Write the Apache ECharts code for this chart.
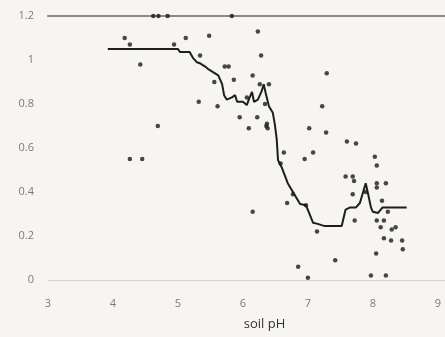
<!DOCTYPE html>
<html>
<head>
<meta charset="utf-8">
<script src="https://cdn.jsdelivr.net/npm/echarts@6/dist/echarts.min.js"></script>
<style>
  html, body { margin: 0; padding: 0; background: #f6f5f1; }
  #chart { width: 445px; height: 337px; }
</style>
</head>
<body>
<div id="chart"></div>
<script>
// scatter: soil pH vs value
const pointsX = [
  4.18, 4.26, 4.42, 4.69, 4.26, 4.45, 4.62, 4.70, 4.84, 4.94,
  5.12, 5.48, 5.34, 5.56, 5.32, 5.61, 5.83, 6.23, 6.28, 5.72,
  5.78, 5.86, 6.15, 6.26, 6.40, 7.29, 6.06, 6.34, 7.22, 5.95,
  6.22, 6.09, 6.37, 6.38, 6.36, 7.02, 7.28, 7.60, 7.74, 6.63,
  7.08, 6.95, 8.03, 8.06, 6.58, 6.15, 6.68, 6.77, 6.85, 7.00,
  7.14, 7.42, 7.58, 7.69, 7.71, 7.69, 7.72, 8.06, 8.20, 8.06,
  8.14, 8.23, 8.06, 8.17, 8.12, 8.29, 8.35, 8.17, 8.28, 8.45,
  8.46, 8.05, 7.97, 8.20, 7.89, 6.97
];
const pointsY = [
  1.10, 1.07, 0.98, 0.70, 0.55, 0.55, 1.20, 1.20, 1.20, 1.07,
  1.10, 1.11, 1.02, 0.90, 0.81, 0.79, 1.20, 1.13, 1.02, 0.97,
  0.97, 0.91, 0.93, 0.89, 0.89, 0.94, 0.83, 0.80, 0.79, 0.74,
  0.74, 0.69, 0.71, 0.69, 0.70, 0.69, 0.67, 0.63, 0.62, 0.58,
  0.58, 0.55, 0.56, 0.52, 0.53, 0.31, 0.35, 0.39, 0.06, 0.01,
  0.22, 0.09, 0.47, 0.47, 0.45, 0.39, 0.27, 0.44, 0.44, 0.42,
  0.36, 0.31, 0.27, 0.27, 0.24, 0.23, 0.24, 0.19, 0.18, 0.18,
  0.14, 0.12, 0.02, 0.02, 0.40, 0.34
];

// moving-average style trend line
const trendX = [
  3.92, 5.00, 5.03, 5.18, 5.23, 5.29, 5.34, 5.42, 5.46, 5.54,
  5.62, 5.68, 5.71, 5.75, 5.83, 5.88, 5.91, 6.00, 6.06, 6.09,
  6.14, 6.17, 6.23, 6.29, 6.32, 6.35, 6.40, 6.46, 6.49, 6.52,
  6.54, 6.60, 6.69, 6.77, 6.88, 6.97, 7.08, 7.15, 7.26, 7.52,
  7.58, 7.65, 7.74, 7.80, 7.85, 7.89, 7.92, 7.97, 8.00, 8.08,
  8.15, 8.52
];
const trendY = [
  1.05, 1.05, 1.036, 1.036, 1.01, 0.99, 0.985, 0.97, 0.96, 0.945,
  0.93, 0.89, 0.84, 0.82, 0.83, 0.84, 0.81, 0.81, 0.795, 0.82,
  0.855, 0.81, 0.82, 0.86, 0.89, 0.85, 0.79, 0.76, 0.71, 0.64,
  0.545, 0.51, 0.44, 0.40, 0.345, 0.34, 0.26, 0.255, 0.245, 0.245,
  0.32, 0.33, 0.33, 0.35, 0.40, 0.44, 0.40, 0.33, 0.31, 0.305,
  0.33, 0.33
];

const yTicks = [0, 0.2, 0.4, 0.6, 0.8, 1, 1.2];

const labelFont = { fontFamily: 'Open Sans', fontSize: 11, color: '#7a7a7a' };

const myChart = echarts.init(document.getElementById('chart'));
const option = {
  backgroundColor: '#f6f5f1',
  animation: false,
  grid: {
    top: 16,
    left: 48,
    right: 0,
    bottom: 57,
  },
  xAxis: [
    {
      type: 'value',
      min: 3,
      max: 9.11,
      interval: 1,
      name: 'soil pH',
      nameLocation: 'middle',
      nameGap: 38,
      nameTextStyle: {
        fontFamily: 'Open Sans',
        fontSize: 13,
        color: '#333',
        padding: [0, 0, 0, 36],
      },
      axisLine: { show: true, lineStyle: { color: '#d4d4d0', width: 1 } },
      axisTick: { show: false },
      splitLine: { show: false },
      axisLabel: Object.assign({ margin: 18, showMaxLabel: false }, labelFont),
    },
    {
      type: 'value',
      position: 'top',
      min: 3,
      max: 9.11,
      axisLine: { show: true, onZero: false, lineStyle: { color: '#8a8a88', width: 2 } },
      axisTick: { show: false },
      axisLabel: { show: false },
      splitLine: { show: false },
    },
  ],
  yAxis: {
    type: 'value',
    min: 0,
    max: 1.2,
    interval: 0.2,
    axisLine: { show: false },
    axisTick: { show: false },
    splitLine: { show: false },
    axisLabel: Object.assign({
      margin: 14,
      formatter: (v) => (yTicks.includes(+v.toFixed(1)) ? String(+v.toFixed(1)) : ''),
    }, labelFont),
  },
  series: [
    {
      type: 'line',
      data: trendX.map((x, i) => [x, trendY[i]]),
      showSymbol: false,
      lineStyle: { color: '#1e1e1e', width: 2 },
      z: 2,
    },
    {
      type: 'scatter',
      data: pointsX.map((x, i) => [x, pointsY[i]]),
      symbolSize: 4.5,
      itemStyle: { color: '#1a1a1a' },
      z: 3,
    },
  ],
};

option && myChart.setOption(option);
</script>
</body>
</html>
